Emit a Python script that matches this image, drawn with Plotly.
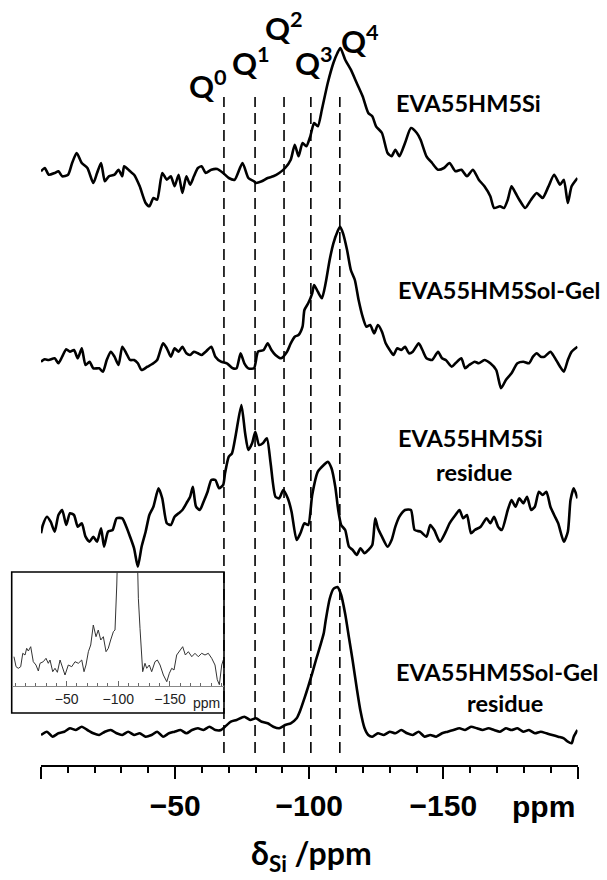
import plotly.graph_objects as go

W, H = 607, 880

# ---------------- data ----------------
s1_ppm = [0,-1.4,-2.9,-5.1,-6.5,-7.9,-10.1,-11.6,-13.3,-15.2,
          -17.3,-19.5,-20.9,-22.4,-23.8,-25.3,-27.4,-28.9,-30.3,-31.0,
          -33.2,-34.7,-36.8,-39.0,-40.4,-41.9,-43.3,-45.2,-46.9,-48.4,
          -49.8,-51.3,-52.7,-54.2,-55.6,-57.0,-58.5,-59.9,-61.4,-63.5,
          -65.7,-67.9,-70.0,-72.2,-75.1,-77.3,-79.4,-80.1,-82.3,-84.5,
          -86.6,-88.8,-91.0,-93.1,-94.6,-96.0,-97.5,-98.9,-100.4,-101.8,
          -103.2,-104.7,-106.9,-109.0,-110.5,-111.6,-113.4,-115.5,-117.7,-119.9,
          -122.0,-123.5,-124.9,-127.1,-129.2,-130.7,-132.1,-133.6,-135.7,-137.9,
          -140.1,-141.5,-143.7,-145.8,-148.0,-150.2,-152.3,-154.5,-156.7,-158.8,
          -161.0,-163.2,-165.3,-167.5,-168.9,-171.1,-172.6,-174.0,-175.4,-176.9,
          -178.3,-180.5,-182.7,-184.8,-187.0,-189.2,-191.3,-193.5,-194.9,-196.4,
          -197.8,-200.0]
s1_int = [1.7,5,-1.7,0,1.7,-3.3,-1.7,10,20,10,
          5,-10,0,10,-8.3,-3.3,-1.7,3.3,-3.3,6.7,
          1.7,-1.7,-13.3,-30,-33.3,-25,-26.7,0,-6.7,-3.3,
          -13.3,-1.7,-20,-3.3,-11.7,-3.3,5,6.7,0,3.3,
          4,0,-5,-6.7,10,-5,-8.3,-10,-8.3,-5,
          -3.3,0,5,13.3,28.3,16.7,30,26.7,36.7,50,
          46.7,63.3,90,110,120,125,113.3,103.3,90,76.7,
          60,56.7,46.7,40,20,16.7,23.3,16.7,30,45,
          40,33.3,16.7,10,3.3,5,10,1.7,3.3,-3.3,
          3.3,-6.7,-13.3,-23.3,-35,-33.3,-35,-26.7,-13.3,-20,
          -26.7,-35,-26.7,-20,-25,-13.3,-1.7,-11.7,-6.7,-30,
          -13.3,-5]

s2_ppm = [0,-1.4,-2.9,-5.1,-6.5,-7.9,-9.4,-10.8,-12.3,-13.7,
          -15.2,-16.6,-18.1,-19.5,-21.7,-23.1,-24.5,-26.0,-27.4,-28.9,
          -30.3,-31.8,-33.2,-34.7,-36.1,-37.5,-39.7,-41.9,-43.3,-45.5,
          -46.9,-48.4,-49.8,-51.3,-52.7,-54.2,-55.6,-57.0,-58.5,-59.9,
          -61.4,-63.5,-65.0,-67.1,-69.3,-71.5,-72.9,-74.4,-75.8,-77.3,
          -79.4,-80.9,-83.0,-84.5,-85.9,-87.4,-89.5,-91.7,-93.1,-94.6,
          -96.0,-97.5,-98.2,-99.6,-101.1,-101.8,-103.2,-104.7,-106.1,-107.6,
          -109.0,-110.5,-111.5,-112.6,-114.1,-115.5,-117.0,-118.4,-119.9,-121.3,
          -122.7,-124.2,-125.6,-127.1,-128.5,-130.0,-131.4,-132.8,-134.3,-135.7,
          -137.2,-138.6,-140.8,-142.2,-143.7,-145.8,-148.0,-149.5,-150.9,-153.1,
          -154.5,-156.7,-158.1,-159.6,-161.7,-163.2,-165.3,-167.5,-169.7,-171.5,
          -173.3,-175.4,-177.6,-179.8,-181.9,-183.4,-184.8,-186.3,-187.7,-189.9,
          -191.3,-193.5,-194.9,-196.4,-197.8,-200.0]
s2_int = [-1.7,0.7,0,1.7,-3.3,3.3,10.7,8.3,10,1.7,
          11.7,-5,-1.7,-8.3,-8.3,-11.7,0,8.3,3.3,-5,
          13.3,6.7,0,0,-3.3,-10,-6.7,-3.3,0,16.7,
          11.7,3.3,11.7,8.3,13.3,6.7,5,8.3,6.7,5,
          8.3,13.3,3.3,-1.7,-3.3,-8.3,-8.3,6.7,-3.3,-8.3,
          -8.3,8.3,10,16.7,10,5,1.7,8.3,16.7,23.3,
          25,33.3,50,56.7,66.7,75,68.3,61.7,76.7,100,
          116.7,128.3,133.3,126.7,110,90,80,60,43.3,33.3,
          35,26.7,35,28.3,16.7,10,5,11.7,10,13.3,
          6.7,8.3,16.7,10,1.7,0,8.3,1.7,0,-6.7,
          -3.3,1.7,-8.3,-5,-1.7,-3.3,0,-3.3,-10,-28.3,
          -20,-13.3,-3.3,-1.7,-3.3,3.3,6.7,3.3,3.3,8.3,
          3.3,-6.7,-11.7,0,8.3,13.3]

s3_ppm = [0,-0.7,-2.2,-3.6,-5.1,-6.5,-7.9,-9.4,-10.8,-12.3,
          -13.7,-15.2,-16.6,-18.1,-19.5,-20.9,-22.4,-23.5,-25.0,-26.7,
          -28.2,-30.3,-31.8,-33.2,-34.7,-36.1,-37.5,-39.0,-40.4,-41.9,
          -43.8,-45.2,-46.9,-48.4,-49.8,-51.3,-52.7,-54.2,-55.6,-56.6,
          -57.8,-59.2,-60.6,-62.1,-63.5,-65.0,-66.4,-67.9,-68.6,-70.0,
          -71.2,-72.6,-74.7,-76.1,-77.3,-78.7,-79.9,-81.3,-82.7,-84.2,
          -85.6,-87.4,-88.8,-90.3,-92.0,-93.4,-95.3,-96.7,-98.2,-99.6,
          -101.1,-103.2,-105.4,-106.9,-108.3,-109.7,-110.8,-111.9,-113.4,-114.8,
          -116.2,-117.7,-119.1,-120.6,-122.0,-123.5,-124.6,-125.6,-127.1,-129.2,
          -130.7,-132.1,-133.6,-135.7,-137.9,-139.3,-141.5,-143.7,-145.1,-146.6,
          -148.7,-150.9,-152.3,-154.5,-156.0,-157.4,-158.8,-160.3,-161.7,-163.9,
          -166.1,-167.5,-168.9,-170.4,-171.8,-174.0,-175.4,-176.9,-178.3,-179.8,
          -181.2,-182.7,-184.1,-185.6,-187.0,-188.4,-189.9,-191.3,-192.8,-194.9,
          -196.4,-197.4,-198.6,-200.0]
s3_int = [-3.3,5,13.3,8.3,-1.7,15,20,5,16.7,15,
          3.3,6.7,-6.7,-11.7,-6.7,-11.7,1.7,-16.7,-1.7,0,
          11.7,11.7,3.3,-6.7,-18.3,-36.7,-16.7,-1.7,15,23.3,
          41.7,31.7,6.7,5,13.3,16.7,20,26.7,33.3,43.3,
          23.3,20,28.3,38.3,50,50,41.7,45,56.7,73.3,
          76.7,95,125,96.7,80,86.7,98.3,85,86.7,91.7,
          66.7,33.3,31.7,40,31.7,18.3,-10,-3.3,6.7,5,
          35,58.3,65,68.3,61.7,43.3,20,5,0,-16.7,
          -20,-25,-18.3,-23.3,-20,-15,11.7,1.7,-6.7,-16.7,
          -10,3.3,13.3,20,20,0,-1.7,-6.7,5,0,
          -11.7,-1.7,6.7,15,20,11.7,15,-3.3,0,3.3,
          11.7,6.7,13.3,3.3,0,20,30,23.3,31.7,26.7,
          33.3,20,23.3,38.3,35,38.3,23.3,15,6.7,-11.7,
          -1.7,30,41.7,31.7]

s4_ppm = [0,-2.2,-4.3,-6.5,-8.7,-10.8,-13.0,-15.2,-17.3,-19.5,
          -21.7,-23.8,-26.0,-28.2,-30.3,-32.5,-34.7,-36.8,-39.0,-41.2,
          -43.3,-45.5,-47.7,-49.8,-52.0,-54.2,-56.3,-58.5,-60.6,-62.8,
          -65.0,-67.1,-68.6,-70.8,-72.9,-75.8,-78.0,-80.1,-82.3,-84.5,
          -86.6,-88.8,-91.0,-93.1,-95.3,-96.7,-98.2,-99.6,-101.1,-102.5,
          -104.0,-105.4,-106.1,-107.6,-109.0,-110.5,-111.9,-113.4,-114.8,-116.2,
          -117.7,-119.1,-120.6,-122.0,-123.5,-125.6,-127.8,-130.0,-132.1,-134.3,
          -136.5,-138.6,-140.8,-143.0,-145.1,-147.3,-149.5,-151.6,-153.8,-156.0,
          -158.1,-160.3,-162.5,-164.6,-166.8,-168.9,-171.1,-173.3,-175.4,-177.6,
          -179.8,-181.9,-184.1,-186.3,-188.4,-190.6,-192.8,-194.9,-196.4,-197.8,
          -198.6,-200.0]
s4_int = [-2,1.3,-3.7,-0.3,1.3,4.7,3,6.3,3,-0.3,
          -2,1.3,3,-0.3,-2,1.3,-2,-0.3,-3.7,-2,
          1.3,-3.7,-0.3,1.3,3,-0.3,3,4.7,3,6.3,
          3,3,6.3,11.3,13,16.3,13,14.7,11.3,9.7,
          6.3,4.7,8,9.7,14.7,23,34.7,46.3,59.7,73,
          86.3,99.7,112,134,144,146,138,119,95.5,72,
          45,22,5,-2,-3.7,-0.3,-2,1.3,-0.3,3,
          -0.3,-2,1.3,-3.7,-2,-3.7,-0.3,1.3,3,4.7,
          3,6.3,4.7,3,4.7,3,1.3,4.7,3,4.7,
          1.3,3,-0.3,1.3,-0.3,-2,-3.7,-5.3,-8.7,-10.3,
          -3.7,3]

# vertical offsets of the stacked spectra (same units as intensity)
offsets = [590, 403, 233, 30]
labels = [["EVA55HM5Si"], ["EVA55HM5Sol-Gel"], ["EVA55HM5Si", "residue"], ["EVA55HM5Sol-Gel", "residue"]]

# Q^n reference positions (ppm) and extent of the dashed guides
q_names = ["0", "1", "2", "3", "4"]
q_ppm = [-68.2, -79.8, -90.6, -100.6, -111.4]
q_span = [10, 666]

# inset spectrum
in_ppm = [1.0,-1.0,-3.2,-5.5,-7.5,-9.7,-11.3,-12.9,-15.2,-17.7,
          -20.3,-22.6,-24.2,-27.4,-30.0,-32.2,-33.9,-36.5,-38.7,-41.0,
          -43.6,-46.2,-48.4,-51.6,-54.9,-58.1,-61.3,-64.6,-66.8,-68.7,
          -71.0,-73.3,-75.8,-78.4,-80.6,-83.0,-85.5,-88.1,-90.3,-92.6,
          -95.2,-96.8,-98.5,-100.0,-108.7,-117.8,-119.4,-121.0,-123.6,-125.8,
          -127.5,-130.0,-132.3,-135.5,-137.8,-140.4,-143.6,-146.9,-149.4,-151.7,
          -153.9,-156.5,-159.7,-162.3,-164.9,-167.8,-171.1,-174.2,-177.4,-180.7,
          -183.9,-187.1,-190.4,-193.6,-195.8,-197.8,-200.1,-201.6]
in_int = [29.3,19.3,17.7,19.3,32.7,31,37.7,35,39.3,24.3,
          21,15,22.7,24.3,27.7,22.7,26,14.3,17.7,13.7,
          26,17.7,11,21,19.3,24.3,22.7,26,14.3,21,
          34.3,41,61,49.3,56,46,49.3,34.3,37.7,46,
          54.3,56,101,160,600,160,87.7,57.7,14.3,22.7,
          17.7,21,14.3,24.3,26,21,11,4.3,12.7,17.7,
          16,31,36,39.3,31,34.3,29.3,32.7,29.3,32.7,
          31,32.7,27.7,21,6.3,1.3,21,26]

main_ticks = [0, -50, -100, -150, -200]
main_ticktext = ["", "\u221250", "\u2212100", "\u2212150", ""]
inset_ticks = [-50, -100, -150]
inset_ticktext = ["\u221250", "\u2212100", "\u2212150"]

# ---------------- layout helpers ----------------
AXIS_Y = 765  # pixel row of the main x axis


def px(x):
    return x / W


def py(y):
    return 1 - y / H


LAB_FONT = "Lato"
AX_FONT = "Liberation Sans"

fig = go.Figure()

spectra = [(s1_ppm, s1_int), (s2_ppm, s2_int), (s3_ppm, s3_int), (s4_ppm, s4_int)]
for (xs, ys), off in zip(spectra, offsets):
    fig.add_trace(go.Scatter(x=xs, y=[v + off + (AXIS_Y - 763) for v in ys], mode="lines",
                             line=dict(color="black", width=2.6, shape="spline", smoothing=0.6),
                             showlegend=False, hoverinfo="skip", xaxis="x", yaxis="y"))

# inset trace
fig.add_trace(go.Scatter(x=in_ppm, y=in_int, mode="lines",
                         line=dict(color="#333333", width=1.0),
                         showlegend=False, hoverinfo="skip", xaxis="x2", yaxis="y2"))

shapes = []
for q in q_ppm:
    shapes.append(dict(type="line", xref="x", yref="y", x0=q, x1=q,
                       y0=q_span[0] + (AXIS_Y - 763), y1=q_span[1] + (AXIS_Y - 763),
                       line=dict(color="black", width=1.6, dash="11px,6px"), layer="above"))
shapes.append(dict(type="rect", xref="paper", yref="paper",
                   x0=px(11.7), x1=px(224), y0=py(713), y1=py(572),
                   line=dict(color="black", width=1.6), fillcolor="white", layer="below"))

annotations = []
q_lab_pos = [(208, 85), (251, 61), (284, 27), (314, 61), (360, 40)]
for name, (lx, ly) in zip(q_names, q_lab_pos):
    annotations.append(dict(xref="paper", yref="paper", x=px(lx), y=py(ly),
                            text="Q<sup>%s</sup>" % name, showarrow=False,
                            font=dict(family=LAB_FONT, size=31, color="black", weight="bold"),
                            xanchor="center", yanchor="middle"))
lab_pos = [[(468, 103)], [(499, 290)], [(470, 438), (474, 472)], [(497, 672), (505, 703)]]
for lines, poss in zip(labels, lab_pos):
    for t, (lx, ly) in zip(lines, poss):
        annotations.append(dict(xref="paper", yref="paper", x=px(lx), y=py(ly), text=t,
                                showarrow=False, xanchor="center", yanchor="middle",
                                font=dict(family=LAB_FONT, size=23.5, color="black", weight="bold")))
annotations.append(dict(xref="paper", yref="paper", x=px(577), y=py(806), text="ppm",
                        showarrow=False, xanchor="right", yanchor="middle",
                        font=dict(family=AX_FONT, size=30, color="black", weight="bold")))
annotations.append(dict(xref="paper", yref="paper", x=px(311), y=py(855),
                        text="\u03b4<sub>Si</sub> /ppm", showarrow=False,
                        xanchor="center", yanchor="middle",
                        font=dict(family=LAB_FONT, size=32, color="black", weight="bold")))
annotations.append(dict(xref="paper", yref="paper", x=px(222), y=py(703), text="ppm",
                        showarrow=False, xanchor="right", yanchor="middle",
                        font=dict(family=AX_FONT, size=14, color="#222")))

fig.update_layout(
    width=W, height=H,
    margin=dict(l=0, r=0, t=0, b=0),
    paper_bgcolor="white", plot_bgcolor="rgba(0,0,0,0)",
    showlegend=False,
    shapes=shapes, annotations=annotations,
    xaxis=dict(domain=[px(41), px(577.5)], range=[0, -200], anchor="y",
               showline=True, linecolor="black", linewidth=2.4,
               ticks="outside", ticklen=12, tickwidth=2.4, tickcolor="black",
               tickvals=main_ticks, ticktext=main_ticktext,
               tickfont=dict(family=AX_FONT, size=30, color="black", weight="bold"),
               ticklabelstandoff=1,
               minor=dict(ticks="outside", ticklen=6, tickwidth=2, tickcolor="black", dtick=10, tick0=0),
               showgrid=False, zeroline=False, fixedrange=True),
    yaxis=dict(domain=[py(AXIS_Y), 1], range=[0, AXIS_Y], visible=False, fixedrange=True),
    xaxis2=dict(domain=[px(11.7), px(224)], range=[3.2, -202.3], anchor="y2",
                showline=True, linecolor="#888888", linewidth=1,
                ticks="inside", ticklen=5, tickwidth=1, tickcolor="#666666",
                tickvals=inset_ticks, ticktext=inset_ticktext,
                tickfont=dict(family=AX_FONT, size=14, color="#222"),
                minor=dict(ticks="inside", ticklen=3, tickwidth=1, tickcolor="#666666", dtick=10, tick0=0),
                showgrid=False, zeroline=False, fixedrange=True),
    yaxis2=dict(domain=[py(686), py(572)], range=[0, 114], anchor="x2", visible=False, fixedrange=True),
)

fig.write_html("out.html")
